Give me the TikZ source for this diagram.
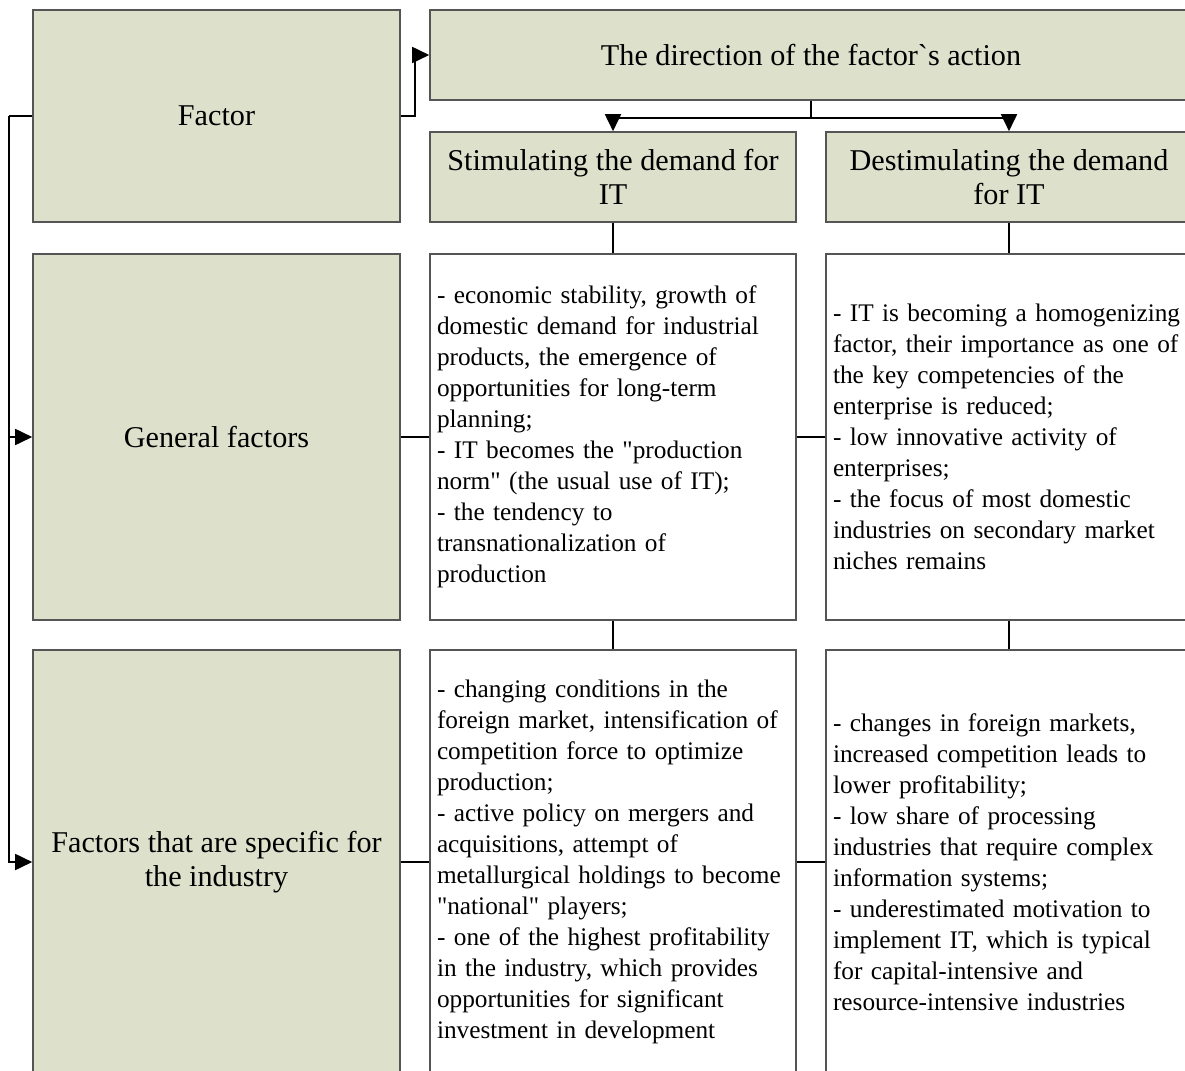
\documentclass[tikz,border=0pt]{standalone}
\usepackage{fontspec}
\newfontfamily\boxfont{Liberation Serif}
\usetikzlibrary{arrows.meta}
\definecolor{headfill}{RGB}{221,225,204}
\definecolor{boxline}{RGB}{85,85,85}
\newcommand\bodyfont{\boxfont\fontsize{25.3}{31}\selectfont\hyphenpenalty=10000\relax}

\begin{document}
\begin{tikzpicture}[x=1pt, y=-1pt,
		head/.style={draw=boxline, line width=1.6pt, fill=headfill, align=center, inner sep=0pt,
			font=\boxfont\fontsize{30.2}{34}\selectfont},
		body/.style={draw=boxline, line width=1.6pt, fill=white, align=left, inner xsep=7pt, inner ysep=0pt,
			text width=352pt, minimum width=366pt, font=\bodyfont},
		link/.style={line width=1.8pt},
		arr/.style={line width=1.8pt, -{Triangle[length=17pt, width=16pt]}}]
			%%%%% START %%%%%
			
			\useasboundingbox (0, 0) rectangle (1185, 1070);
			\clip (0, 0) rectangle (1185, 1070);
			
			% left column
			\node[head, minimum width=367pt, minimum height=212pt] (factor) at (216.5, 116) {Factor};
			\node[head, minimum width=367pt, minimum height=366pt] (general) at (216.5, 437) {General factors};
			\node[head, minimum width=367pt, minimum height=424pt] (specific) at (216.5, 862) {Factors that are specific for\\the industry};
			
			% headers
			\node[head, minimum width=762pt, minimum height=90pt] (direction) at (811, 55) {The direction of the factor`s action};
			\node[head, minimum width=366pt, minimum height=90pt] (stim) at (613, 177) {Stimulating the demand for\\IT};
			\node[head, minimum width=366pt, minimum height=90pt] (destim) at (1009, 177) {Destimulating the demand\\for IT};
			
			% general factors
			\node[body, minimum height=366pt] (stimgen) at (613, 437) {- economic stability, growth of\\domestic demand for industrial\\products, the emergence of\\opportunities for long-term\\planning;\\- IT becomes the "production\\norm" (the usual use of IT);\\- the tendency to\\transnationalization of\\production};
			\node[body, minimum height=366pt] (destimgen) at (1009, 437) {- IT is becoming a homogenizing\\factor, their importance as one of\\the key competencies of the\\enterprise is reduced;\\- low innovative activity of\\enterprises;\\- the focus of most domestic\\industries on secondary market\\niches remains};
			
			% specific factors
			\node[body, minimum height=424pt] (stimspec) at (613, 862) {- changing conditions in the\\foreign market, intensification of\\competition force to optimize\\production;\\- active policy on mergers and\\acquisitions, attempt of\\metallurgical holdings to become\\"national" players;\\- one of the highest profitability\\in the industry, which provides\\opportunities for significant\\investment in development};
			\node[body, minimum height=424pt] (destimspec) at (1009, 862) {- changes in foreign markets,\\increased competition leads to\\lower profitability;\\- low share of processing\\industries that require complex\\information systems;\\- underestimated motivation to\\implement IT, which is typical\\for capital-intensive and\\resource-intensive industries};
			
			% connectors
			\draw[arr] (factor.east) -- ++(14, 0) |- (direction.west);
			\draw[link] (direction.south) -- ++(0, 17) coordinate (split);
			\draw[arr] (split) -| (stim.north);
			\draw[arr] (split) -| (destim.north);
			
			\draw[link] (factor.west) -- ++(-23, 0) coordinate (bus);
			\draw[arr] (bus) |- (general.west);
			\draw[arr] (bus) |- (specific.west);
			
			\draw[link] (stim.south) -- (stimgen.north);
			\draw[link] (destim.south) -- (destimgen.north);
			\draw[link] (stimgen.south) -- (stimspec.north);
			\draw[link] (destimgen.south) -- (destimspec.north);
			
			\draw[link] (general.east) -- (stimgen.west);
			\draw[link] (stimgen.east) -- (destimgen.west);
			\draw[link] (specific.east) -- (stimspec.west);
			\draw[link] (stimspec.east) -- (destimspec.west);
			
			%%%%% END %%%%%
\end{tikzpicture}
\end{document}
